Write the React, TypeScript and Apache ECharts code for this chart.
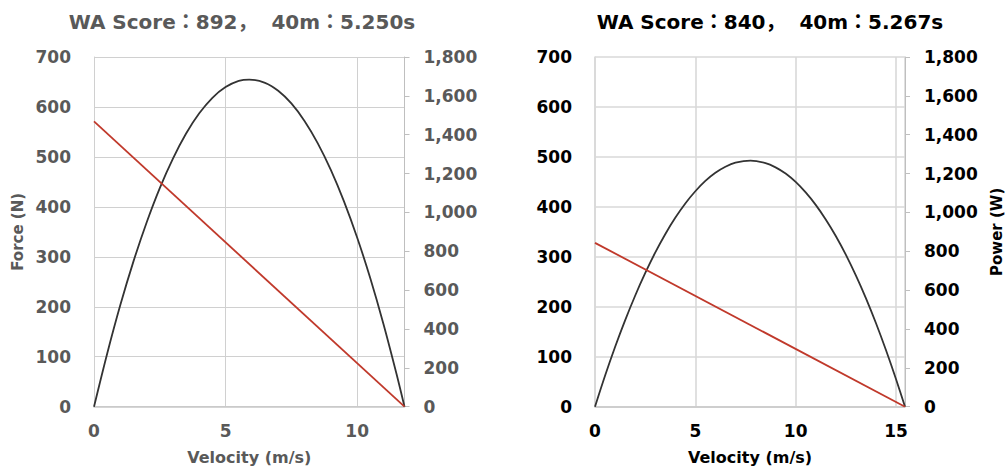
import React, { useEffect, useRef } from "react";
import * as echarts from "echarts";

// Left chart (WA Score 892)
const leftTitle = "WA Score：892，  40m：5.250s";
const leftForce: [number, number][] = [[0, 571], [11.8, 0]];
const leftPower: [number, number][] = [
  [0, 0], [0.5, 273], [1, 523], [1.5, 748], [2, 948], [2.5, 1125], [3, 1277],
  [3.5, 1406], [4, 1510], [4.5, 1590], [5, 1645], [5.5, 1677], [5.9, 1684],
  [6.5, 1667], [7, 1626], [7.5, 1561], [8, 1471], [8.5, 1357], [9, 1219],
  [9.5, 1057], [10, 871], [10.5, 661], [11, 426], [11.5, 167], [11.8, 0],
];
const leftVmax = 11.8;

// Right chart (WA Score 840)
const rightTitle = "WA Score：840，  40m：5.267s";
const rightForce: [number, number][] = [[0, 328], [15.45, 0]];
const rightPower: [number, number][] = [
  [0, 0], [0.5, 159], [1, 307], [1.5, 444], [2, 571], [2.5, 687], [3, 793],
  [3.5, 888], [4, 972], [4.5, 1046], [5, 1109], [5.5, 1162], [6, 1204],
  [6.5, 1235], [7, 1256], [7.75, 1267], [8.5, 1254], [9, 1232], [9.5, 1200],
  [10, 1157], [10.5, 1103], [11, 1039], [11.5, 964], [12, 879], [12.5, 783],
  [13, 676], [13.5, 559], [14, 431], [14.5, 292], [15, 143], [15.45, 0],
];
const rightVmax = 15.45;

const forceAxis = { min: 0, max: 700, interval: 100 };
const powerAxis = { min: 0, max: 1800, interval: 200 };
const xInterval = 5;

const FONT = "DejaVu Sans";

export default function App() {
  const ref = useRef<HTMLDivElement>(null);
  useEffect(() => {
    if (!ref.current) return;
    const chart = echarts.init(ref.current, undefined, { renderer: "svg" });
    const grids = [
      { left: 94, top: 57, width: 310.5, height: 349.7, outerBoundsMode: "none", containLabel: false },
      { left: 595, top: 57, width: 310, height: 349.7, outerBoundsMode: "none", containLabel: false },
    ];
    const colors = ["#595959", "#000000"];
    const gridColors = ["#d0d0d0", "#d9d9d9"];
    const gridWidths = [1, 1.6];
    const vmax = [leftVmax, rightVmax];
    const xAxes = [0, 1].map((i) => ({
      type: "value",
      gridIndex: i,
      min: 0,
      max: vmax[i],
      interval: xInterval,
      name: "Velocity (m/s)",
      nameLocation: "middle",
      nameGap: 43,
      nameTextStyle: { color: colors[i], fontFamily: FONT, fontSize: 16, fontWeight: "bold" },
      axisLine: { show: true, lineStyle: { color: "#c8c8c8", width: 1.5 } },
      axisTick: { show: false },
      axisLabel: {
        color: colors[i], fontFamily: FONT, fontSize: 17, fontWeight: "bold",
        margin: 16, showMaxLabel: false,
      },
      splitLine: { show: true, lineStyle: { color: gridColors[i], width: gridWidths[i] } },
    }));
    const yAxes: any[] = [];
    [0, 1].forEach((i) => {
      yAxes.push({
        type: "value",
        gridIndex: i,
        position: "left",
        ...forceAxis,
        name: i === 0 ? "Force (N)" : "",
        nameLocation: "middle",
        nameGap: 69,
        nameRotate: 90,
        nameTextStyle: { color: colors[i], fontFamily: FONT, fontSize: 15, fontWeight: "bold" },
        axisLine: { show: true, lineStyle: { color: gridColors[i], width: gridWidths[i] } },
        axisTick: { show: false },
        axisLabel: { color: colors[i], fontFamily: FONT, fontSize: 17, fontWeight: "bold", margin: 23 },
        splitLine: { show: true, lineStyle: { color: gridColors[i], width: gridWidths[i] } },
      });
      yAxes.push({
        type: "value",
        gridIndex: i,
        position: "right",
        ...powerAxis,
        name: i === 1 ? "Power (W)" : "",
        nameLocation: "middle",
        nameGap: 84,
        nameRotate: 90,
        nameTextStyle: { color: colors[i], fontFamily: FONT, fontSize: 15, fontWeight: "bold" },
        axisLine: { show: true, lineStyle: { color: "#bfbfbf", width: 1 } },
        axisTick: { show: true, inside: false, length: 5, lineStyle: { color: "#bfbfbf" } },
        axisLabel: { color: colors[i], fontFamily: FONT, fontSize: 17, fontWeight: "bold", margin: 19 },
        splitLine: { show: false },
      });
    });
    const series = [
      { data: leftPower, xAxisIndex: 0, yAxisIndex: 1, color: "#333333", smooth: 0.3 },
      { data: leftForce, xAxisIndex: 0, yAxisIndex: 0, color: "#c0392b", smooth: false },
      { data: rightPower, xAxisIndex: 1, yAxisIndex: 3, color: "#333333", smooth: 0.3 },
      { data: rightForce, xAxisIndex: 1, yAxisIndex: 2, color: "#c0392b", smooth: false },
    ].map((s) => ({
      type: "line",
      data: s.data,
      xAxisIndex: s.xAxisIndex,
      yAxisIndex: s.yAxisIndex,
      smooth: s.smooth,
      showSymbol: false,
      lineStyle: { color: s.color, width: 1.8 },
    }));
    chart.setOption({
      animation: false,
      backgroundColor: "#ffffff",
      grid: grids,
      xAxis: xAxes,
      yAxis: yAxes,
      series,
      graphic: [
        {
          type: "text", x: 242, y: 22,
          style: {
            text: leftTitle, fill: colors[0], fontFamily: "DejaVu Sans, Noto Sans CJK JP",
            fontSize: 20, fontWeight: "bold",
            textAlign: "center", textVerticalAlign: "middle",
          },
        },
        {
          type: "text", x: 770, y: 22,
          style: {
            text: rightTitle, fill: colors[1], fontFamily: "DejaVu Sans, Noto Sans CJK JP",
            fontSize: 20, fontWeight: "bold",
            textAlign: "center", textVerticalAlign: "middle",
          },
        },
      ],
    });
    return () => chart.dispose();
  }, []);
  return (
    <div
      ref={ref}
      style={{ position: "absolute", left: 0, top: 0, width: 1006, height: 468 }}
    />
  );
}
